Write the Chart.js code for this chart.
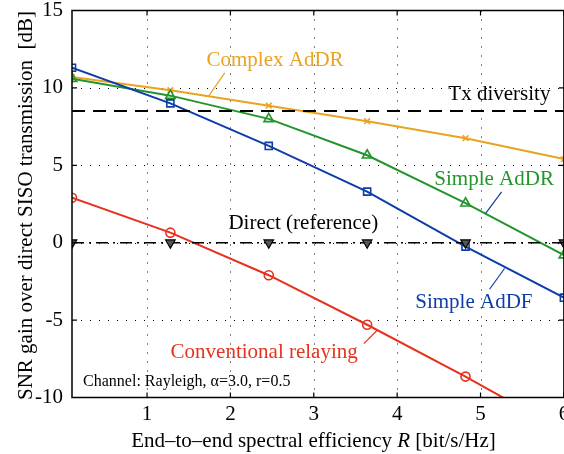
<!DOCTYPE html>
<html>
<head>
<meta charset="utf-8">
<script src="https://cdn.jsdelivr.net/npm/chart.js@4"></script>
<style>
  html, body { margin: 0; padding: 0; background: #fff; overflow: hidden; width: 564px; height: 454px; }
  canvas { display: block; }
</style>
</head>
<body>
<canvas id="chart" width="571" height="454"></canvas>
<script>
// End-to-end spectral efficiency R [bit/s/Hz] of the simulated points
const rateValues = [0.1, 1.28, 2.46, 3.64, 4.82, 6.0];

// SNR gain over direct SISO transmission [dB]
const complexAdDR = [10.7, 9.85, 8.85, 7.85, 6.75, 5.4];
const simpleAdDR = [10.6, 9.5, 8.0, 5.65, 2.55, -0.8];
const simpleAdDF = [11.3, 9.0, 6.25, 3.3, -0.25, -3.55];
const conventional = [2.9, 0.65, -2.1, -5.3, -8.65, -12.2];
const directRef = [0, 0, 0, 0, 0, 0];
const txDiversity = [8.5, 8.5, 8.5, 8.5, 8.5, 8.5];

// tick labels
const xTicks = [1, 2, 3, 4, 5, 6];
const yTicks = [-10, -5, 0, 5, 10, 15];

const ORANGE = '#E9A31F';
const BLUE = '#0E3CA8';
const GREEN = '#23952D';
const RED = '#E6321D';
const SERIF = '"Liberation Serif", "Times New Roman", serif';

// text labels, placed in data units
const labels = [
    { text: 'Complex AdDR', x: 2.535, y: 11.41, color: ORANGE, align: 'center' },
    { text: 'Tx diversity', x: 5.226, y: 9.21, color: '#000', align: 'center' },
    { text: 'Simple AdDR', x: 5.163, y: 3.70, color: GREEN, align: 'center' },
    { text: 'Direct (reference)', x: 2.874, y: 0.87, color: '#000', align: 'center' },
    { text: 'Simple AdDF', x: 4.92, y: -4.25, color: BLUE, align: 'center' },
    { text: 'Conventional relaying', x: 2.405, y: -7.42, color: RED, align: 'center' }
];

// leader lines from labels to curves, in data units
const leaders = [
    { from: [1.932, 10.976], to: [1.733, 9.425], color: ORANGE },
    { from: [5.253, 3.284], to: [5.061, 1.888], color: BLUE },
    { from: [5.288, -1.668], to: [5.108, -3.006], color: BLUE },
    { from: [3.761, -5.656], to: [3.600, -6.516], color: RED }
];

function toPoints(values) {
    return rateValues.map((r, i) => ({ x: r, y: values[i] }));
}

// dotted grid, box, inward ticks and annotations
const decor = {
    id: 'decor',
    beforeDatasetsDraw(chart) {
        const { ctx, chartArea: a, scales: { x, y } } = chart;
        ctx.save();
        ctx.strokeStyle = '#000';
        ctx.lineWidth = 1;
        ctx.setLineDash([1, 8]);
        xTicks.forEach(v => {
            const px = Math.round(x.getPixelForValue(v)) + 0.5;
            if (px > a.right - 2) return;
            ctx.beginPath(); ctx.moveTo(px, a.top); ctx.lineTo(px, a.bottom); ctx.stroke();
        });
        yTicks.forEach(v => {
            const py = Math.round(y.getPixelForValue(v)) + 0.5;
            if (py < a.top + 2 || py > a.bottom - 2) return;
            ctx.beginPath(); ctx.moveTo(a.left, py); ctx.lineTo(a.right, py); ctx.stroke();
        });
        ctx.restore();
    },
    afterDraw(chart) {
        const { ctx, chartArea: a, scales: { x, y } } = chart;
        ctx.save();
        ctx.strokeStyle = '#000';
        ctx.lineWidth = 1.5;
        ctx.strokeRect(a.left, a.top, a.right - a.left, a.bottom - a.top);

        // inward tick marks on all four sides
        ctx.lineWidth = 1.2;
        const tl = 5;
        xTicks.forEach(v => {
            const px = x.getPixelForValue(v);
            ctx.beginPath();
            ctx.moveTo(px, a.bottom); ctx.lineTo(px, a.bottom - tl);
            ctx.moveTo(px, a.top); ctx.lineTo(px, a.top + tl);
            ctx.stroke();
        });
        yTicks.forEach(v => {
            const py = y.getPixelForValue(v);
            ctx.beginPath();
            ctx.moveTo(a.left, py); ctx.lineTo(a.left + tl, py);
            ctx.moveTo(a.right, py); ctx.lineTo(a.right - tl, py);
            ctx.stroke();
        });

        // leader lines
        ctx.lineWidth = 1.2;
        leaders.forEach(l => {
            ctx.strokeStyle = l.color;
            ctx.beginPath();
            ctx.moveTo(x.getPixelForValue(l.from[0]), y.getPixelForValue(l.from[1]));
            ctx.lineTo(x.getPixelForValue(l.to[0]), y.getPixelForValue(l.to[1]));
            ctx.stroke();
        });

        // curve labels
        ctx.font = '21px ' + SERIF;
        ctx.textBaseline = 'alphabetic';
        labels.forEach(l => {
            ctx.fillStyle = l.color;
            ctx.textAlign = l.align;
            ctx.fillText(l.text, x.getPixelForValue(l.x), y.getPixelForValue(l.y));
        });

        // channel note
        ctx.font = '16px ' + SERIF;
        ctx.fillStyle = '#000';
        ctx.textAlign = 'left';
        ctx.fillText('Channel: Rayleigh, \u03b1=3.0, r=0.5', x.getPixelForValue(0.233), y.getPixelForValue(-9.28));

        // x axis title with italic R
        const t1 = 'End\u2013to\u2013end spectral efficiency ';
        const t2 = 'R';
        const t3 = ' [bit/s/Hz]';
        ctx.font = '21px ' + SERIF;
        const w1 = ctx.measureText(t1).width;
        const w3 = ctx.measureText(t3).width;
        ctx.font = 'italic 21px ' + SERIF;
        const w2 = ctx.measureText(t2).width;
        let sx = 313.5 - (w1 + w2 + w3) / 2;
        const by = 447;
        ctx.font = '21px ' + SERIF;
        ctx.fillText(t1, sx, by);
        ctx.font = 'italic 21px ' + SERIF;
        ctx.fillText(t2, sx + w1, by);
        ctx.font = '21px ' + SERIF;
        ctx.fillText(t3, sx + w1 + w2, by);

        // y axis title
        ctx.translate(31.5, 205.5);
        ctx.rotate(-Math.PI / 2);
        ctx.textAlign = 'center';
        ctx.fillText('SNR gain over direct SISO transmission  [dB]', 0, 0);
        ctx.restore();
    }
};

function makeSeries(label, values, color, style, extra) {
    return Object.assign({
        label: label,
        data: toPoints(values),
        borderColor: color,
        backgroundColor: color,
        borderWidth: 2,
        pointStyle: style,
        pointRadius: 4.5,
        pointBorderWidth: 1.6,
        pointBorderColor: color,
        pointBackgroundColor: 'rgba(0,0,0,0)',
        tension: 0
    }, extra || {});
}

const ctx = document.getElementById('chart').getContext('2d');
new Chart(ctx, {
    type: 'line',
    data: {
        datasets: [
            makeSeries('Tx diversity', txDiversity, '#000', false, {
                borderDash: [13, 8], pointRadius: 0, borderWidth: 2
            }),
            makeSeries('Direct (reference)', directRef, '#000', 'triangle', {
                borderDash: [12, 5, 2, 5], borderWidth: 1.5, pointRotation: 180,
                pointBackgroundColor: '#555', pointBorderWidth: 1.2, pointRadius: 5.5
            }),
            makeSeries('Conventional relaying', conventional, RED, 'circle'),
            makeSeries('Simple AdDF', simpleAdDF, BLUE, 'rect', { pointRadius: 5 }),
            makeSeries('Simple AdDR', simpleAdDR, GREEN, 'triangle', { pointRadius: 5.5 }),
            makeSeries('Complex AdDR', complexAdDR, ORANGE, 'crossRot', { pointRadius: 4 })
        ]
    },
    options: {
        responsive: false,
        animation: false,
        events: [],
        layout: { padding: { left: 0, top: 10.5, right: 0, bottom: 0 } },
        plugins: {
            legend: { display: false },
            tooltip: { enabled: false }
        },
        scales: {
            x: {
                type: 'linear',
                min: 0.1,
                max: 6,
                afterBuildTicks: s => { s.ticks = xTicks.map(v => ({ value: v })); },
                afterFit: s => { s.height = 56.5; s.paddingLeft = 0; s.paddingRight = 0; },
                grid: { display: false, drawTicks: false },
                border: { display: false },
                ticks: {
                    color: '#000',
                    padding: 4,
                    maxRotation: 0,
                    autoSkip: false,
                    font: { family: SERIF, size: 21 }
                }
            },
            y: {
                min: -10,
                max: 15,
                afterBuildTicks: s => { s.ticks = yTicks.map(v => ({ value: v })); },
                afterFit: s => { s.width = 72; s.paddingTop = 0; s.paddingBottom = 0; },
                grid: { display: false, drawTicks: false },
                border: { display: false },
                ticks: {
                    color: '#000',
                    padding: 9,
                    autoSkip: false,
                    font: { family: SERIF, size: 21 }
                }
            }
        }
    },
    plugins: [decor]
});
</script>
</body>
</html>
